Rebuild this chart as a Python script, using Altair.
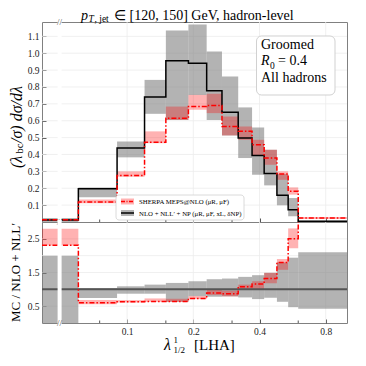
import altair as alt
import pandas as pd

# ---------------- data ----------------
lam_edges = [0.0, 0.06, 0.09, 0.12, 0.15, 0.19, 0.23, 0.27, 0.32, 0.37, 0.42, 0.48, 0.54, 0.60, 1.0]

# NLO + NLL' + NP (central, band low, band high)
nlo_c  = [0.012, 0.197, 0.438, 0.740, 0.955, 0.940, 0.777, 0.651, 0.497, 0.394, 0.288, 0.158, 0.073, 0.004]
nlo_lo = [0.000, 0.146, 0.383, 0.641, 0.605, 0.753, 0.605, 0.513, 0.379, 0.280, 0.217, 0.099, 0.034, 0.002]
nlo_hi = [0.024, 0.205, 0.477, 0.842, 1.134, 1.170, 1.010, 0.862, 0.679, 0.560, 0.428, 0.284, 0.142, 0.008]

# Sherpa MEPS@NLO (central, band low, band high)
sh_c  = [0.013, 0.118, 0.276, 0.472, 0.615, 0.684, 0.690, 0.566, 0.537, 0.457, 0.379, 0.284, 0.182, 0.024]
sh_lo = [0.010, 0.111, 0.268, 0.467, 0.605, 0.665, 0.645, 0.513, 0.487, 0.394, 0.339, 0.250, 0.162, 0.018]
sh_hi = [0.016, 0.134, 0.300, 0.537, 0.684, 0.753, 0.760, 0.625, 0.566, 0.487, 0.428, 0.300, 0.205, 0.030]

# ratio panel (MC / NLO+NLL')
r_nlo_lo = [0.00, 0.74, 0.87, 0.87, 0.63, 0.80, 0.78, 0.79, 0.76, 0.71, 0.75, 0.63, 0.47, 0.42]
r_nlo_hi = [2.00, 1.04, 1.09, 1.14, 1.19, 1.24, 1.30, 1.32, 1.37, 1.42, 1.49, 1.80, 1.94, 2.10]
r_sh    = [2.31, 0.60, 0.63, 0.64, 0.64, 0.73, 0.89, 0.87, 1.08, 1.16, 1.32, 1.80, 2.50, 6.00]
r_sh_lo = [2.30, 0.56, 0.61, 0.63, 0.63, 0.71, 0.83, 0.79, 0.98, 1.00, 1.18, 1.58, 2.22, 4.50]
r_sh_hi = [2.80, 0.68, 0.68, 0.73, 0.72, 0.80, 0.98, 0.96, 1.14, 1.24, 1.49, 1.90, 2.81, 7.50]

x_ticks = [0.1, 0.2, 0.4, 0.8]
x_minor_ticks = [0.075, 0.15, 0.3, 0.6]
main_y_ticks = [0.1, 0.2, 0.3, 0.4, 0.5, 0.6, 0.7, 0.8, 0.9, 1.0, 1.1]
ratio_y_ticks = [0.5, 1.0, 1.5, 2.0, 2.5]

# ---------------- layout constants ----------------
XMIN, XMAX = 0.041, 1.0      # displayed x range (first bin starts at 0, shown behind the axis break)
BREAK = 0.0493
W, H1, H2 = 305, 200, 101
FONT = "Liberation Serif"
GRID = "#ececec"
TICKC = "#555555"

lo = [max(e, XMIN) for e in lam_edges[:-1]]
hi = lam_edges[1:]
bins = pd.DataFrame(dict(lo=lo, hi=hi, nlo_lo=nlo_lo, nlo_hi=nlo_hi, sh_lo=sh_lo, sh_hi=sh_hi,
                         r_nlo_lo=r_nlo_lo, r_nlo_hi=r_nlo_hi, r_sh_lo=r_sh_lo, r_sh_hi=r_sh_hi))
xs_edges = [max(e, XMIN) for e in lam_edges]
steps = pd.DataFrame(dict(x=xs_edges, nlo=nlo_c + [nlo_c[-1]], sh=sh_c + [sh_c[-1]], r_sh=r_sh + [r_sh[-1]]))

xscale = alt.Scale(type="log", domain=[XMIN, XMAX], nice=False)
y1scale = alt.Scale(domain=[0, 1.185], nice=False, zero=False)
y2scale = alt.Scale(domain=[0, 3.0], nice=False, zero=False)


def xaxis(labels):
    return alt.Axis(values=x_ticks, labels=labels, format=".1f", grid=False, domain=False, offset=-4,
                    tickSize=4, tickColor=TICKC, labelFont=FONT, labelFontSize=9.5, labelColor="#222",
                    labelPadding=3, title=None)


def yaxis(vals):
    return alt.Axis(values=vals, format=".1f", grid=False, domain=False, offset=-4, tickSize=4,
                    tickColor=TICKC, labelFont=FONT, labelFontSize=9.5, labelColor="#222",
                    labelPadding=3, title=None)


def txt(s, x, y, size, italic=False, angle=0, align="left", baseline="alphabetic", dx=0, dy=0, color="black"):
    kw = dict(font=FONT, fontSize=size, align=align, baseline=baseline, dx=dx, dy=dy, color=color, angle=angle)
    if italic:
        kw["fontStyle"] = "italic"
    return alt.Chart(pd.DataFrame({"t": [s]})).mark_text(**kw).encode(
        text="t:N", x=alt.value(x), y=alt.value(y))


def box(x1, x2, y1, y2, fill, stroke=None, r=0, opacity=1.0, sw=1):
    kw = dict(fill=fill, cornerRadius=r, opacity=opacity)
    if stroke:
        kw.update(stroke=stroke, strokeWidth=sw)
    return alt.Chart(pd.DataFrame({"a": [0]})).mark_rect(**kw).encode(
        x=alt.value(x1), x2=alt.value(x2), y=alt.value(y1), y2=alt.value(y2))


def hline(x1, x2, y, color, dash=None, sw=1.5):
    kw = dict(color=color, strokeWidth=sw)
    if dash:
        kw["strokeDash"] = dash
    return alt.Chart(pd.DataFrame({"a": [0]})).mark_rule(**kw).encode(
        x=alt.value(x1), x2=alt.value(x2), y=alt.value(y))


def gridlayers(yvals, yscale, yax, xax, h):
    gx = alt.Chart(pd.DataFrame({"v": x_ticks})).mark_rule(color=GRID, strokeWidth=0.8).encode(
        x=alt.X("v:Q", scale=xscale, axis=xax))
    gy = alt.Chart(pd.DataFrame({"v": yvals})).mark_rule(color=GRID, strokeWidth=0.8).encode(
        y=alt.Y("v:Q", scale=yscale, axis=yax))
    minor = alt.Chart(pd.DataFrame({"v": x_minor_ticks})).mark_rule(color=TICKC, strokeWidth=1).encode(
        x=alt.X("v:Q", scale=xscale, axis=xax), y=alt.value(h - 2.5), y2=alt.value(h))
    return [gx, gy, minor]


def break_marks(h, top=True):
    out = [alt.Chart(pd.DataFrame({"a": [0]})).mark_rule(color="white", strokeWidth=4, strokeCap="square").encode(
        x=alt.X(datum=BREAK, scale=xscale))]
    ys = ([0] if top else []) + [h]
    for yy in ys:
        out.append(alt.Chart(pd.DataFrame({"a": [0]})).mark_text(
            text="//", font=FONT, fontSize=9, color="#555", baseline="middle", align="center").encode(
            x=alt.X(datum=BREAK, scale=xscale), y=alt.value(yy)))
    return out


# ---------------- main panel ----------------
XA1, YA1 = xaxis(False), yaxis(main_y_ticks)
band_nlo = alt.Chart(bins).mark_rect(color="#808080", opacity=0.6).encode(
    x=alt.X("lo:Q", scale=xscale, axis=XA1), x2="hi:Q",
    y=alt.Y("nlo_lo:Q", scale=y1scale, axis=YA1), y2="nlo_hi:Q")
band_sh = alt.Chart(bins).mark_rect(color="#ff0000", opacity=0.3).encode(
    x=alt.X("lo:Q", scale=xscale, axis=XA1), x2="hi:Q",
    y=alt.Y("sh_lo:Q", scale=y1scale, axis=YA1), y2="sh_hi:Q")
line_nlo = alt.Chart(steps).mark_line(interpolate="step-after", color="black", strokeWidth=1.5).encode(
    x=alt.X("x:Q", scale=xscale, axis=XA1),
    y=alt.Y("nlo:Q", scale=y1scale, axis=YA1))
line_sh = alt.Chart(steps).mark_line(interpolate="step-after", color="#ff0000", strokeWidth=1.5,
                                     strokeDash=[5, 2, 1.5, 2]).encode(
    x=alt.X("x:Q", scale=xscale, axis=XA1),
    y=alt.Y("sh:Q", scale=y1scale, axis=YA1))

legend = [
    box(74, 202, 173, 198, "white", stroke="#d0d0d0", r=3, sw=0.8),
    box(79, 92, 176.5, 182.5, "#ff0000", opacity=0.3),
    hline(79, 92, 179.5, "#ff0000", dash=[4, 1.5, 1, 1.5], sw=1.5),
    box(79, 92, 188, 194, "#808080", opacity=0.6),
    hline(79, 92, 191, "black", sw=1.5),
    txt("SHERPA MEPS@NLO (μR, μF)", 97, 182, 6.8),
    txt("NLO + NLL′ + NP (μR, μF, xL, δNP)", 97, 193.5, 6.8),
]

info = [
    box(214.5, 293, 14, 73, "white", stroke="#cccccc", r=5, sw=0.9),
    txt("Groomed", 219, 27, 14),
    txt("R", 219, 43.3, 14, italic=True),
    txt("0", 228, 46.5, 9.5),
    txt("= 0.4", 236, 43.3, 14),
    txt("All hadrons", 219, 59.6, 14),
]

title = [
    txt("p", 39, -2, 14, italic=True),
    txt("T", 46.5, -0.5, 9.5, italic=True),
    txt(", jet", 52.5, -0.5, 9.5),
    txt("∈ [120, 150] GeV, hadron-level", 72, -2, 14),
]

ytitle1 = [
    txt("(λ", -25.5, 146, 16, italic=True, angle=270, baseline="middle"),
    txt("bc", -25.5, 146, 10.5, angle=270, baseline="middle", dx=14.5, dy=3.5),
    txt("/σ) dσ/dλ", -25.5, 146, 16, italic=True, angle=270, baseline="middle", dx=25),
]

main = alt.layer(
    *gridlayers(main_y_ticks, y1scale, YA1, XA1, H1),
    band_nlo, band_sh, line_nlo, line_sh,
    *break_marks(H1, top=True),
    *legend, *info, *title, *ytitle1,
).properties(width=W, height=H1)

# ---------------- ratio panel ----------------
XA2, YA2 = xaxis(True), yaxis(ratio_y_ticks)
rband_nlo = alt.Chart(bins).mark_rect(color="#808080", opacity=0.6, clip=True).encode(
    x=alt.X("lo:Q", scale=xscale, axis=XA2), x2="hi:Q",
    y=alt.Y("r_nlo_lo:Q", scale=y2scale, axis=YA2), y2="r_nlo_hi:Q")
rband_sh = alt.Chart(bins).mark_rect(color="#ff0000", opacity=0.3, clip=True).encode(
    x=alt.X("lo:Q", scale=xscale, axis=XA2), x2="hi:Q",
    y=alt.Y("r_sh_lo:Q", scale=y2scale, axis=YA2), y2="r_sh_hi:Q")
rcenter = alt.Chart(pd.DataFrame({"a": [0]})).mark_rule(color="#555555", strokeWidth=2).encode(
    y=alt.Y(datum=1.0, scale=y2scale))
rline_sh = alt.Chart(steps).mark_line(interpolate="step-after", color="#ff0000", strokeWidth=1.5,
                                      strokeDash=[5, 2, 1.5, 2], clip=True).encode(
    x=alt.X("x:Q", scale=xscale, axis=XA2),
    y=alt.Y("r_sh:Q", scale=y2scale, axis=YA2))

xtitle = [
    txt("λ", 122, 128, 16, italic=True),
    txt("1", 131.5, 121, 9),
    txt("1/2", 131.5, 130.5, 9),
    txt("[LHA]", 152, 128, 15),
]
ytitle2 = [txt("MC / NLO + NLL′", -26, 50.5, 13, angle=270, baseline="middle", align="center")]

ratio = alt.layer(
    *gridlayers(ratio_y_ticks, y2scale, YA2, XA2, H2),
    rband_nlo, rband_sh, rcenter, rline_sh,
    *break_marks(H2, top=False),
    *xtitle, *ytitle2,
).properties(width=W, height=H2)

chart = alt.vconcat(main, ratio, spacing=0, bounds="flush").configure_view(
    stroke="#808080", strokeWidth=1
).properties(padding={"left": 0, "top": 0, "right": 0, "bottom": 0})

chart.save("out.html", embed_options={"renderer": "svg", "actions": False})
